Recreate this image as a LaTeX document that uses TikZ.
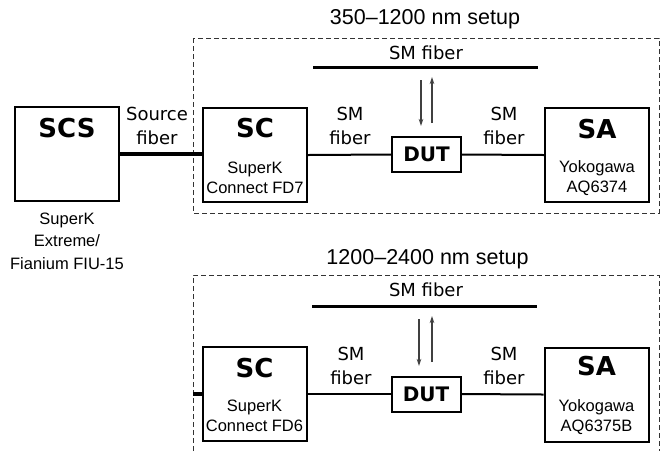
\documentclass[tikz,border=0pt]{standalone}
\usepackage{fontspec}
\setmainfont{Liberation Sans}
\newfontfamily\dv{DejaVu Sans}
\usetikzlibrary{arrows.meta}
\begin{document}
\begin{tikzpicture}[x=1pt,y=-1pt,
  box/.style={draw, line width=2pt, inner sep=0pt},
  bigbox/.style={box, minimum width=104pt, minimum height=94pt},
  dutbox/.style={box, minimum width=69pt, minimum height=35pt, font=\dv\bfseries\fontsize{20}{22}\selectfont},
  bold/.style={font=\dv\bfseries\fontsize{26}{28}\selectfont, inner sep=0pt},
  small/.style={font=\fontsize{16.5}{20}\selectfont, align=center, inner sep=0pt},
  lbl/.style={font=\dv\fontsize{18}{24}\selectfont, align=center, inner sep=0pt},
  ttl/.style={font=\fontsize{21.5}{24}\selectfont, inner sep=0pt},
  fiber/.style={line width=2pt},
  srcfiber/.style={line width=4.5pt},
  smline/.style={line width=3pt},
  frame/.style={line width=1pt, black!80, dash pattern=on 5pt off 3pt},
  arr/.style={line width=1.2pt, black!75, -{Stealth[length=7pt,width=4.5pt]}}
]
\useasboundingbox (0,0) rectangle (660,451);

% frames
\draw[frame] (193,38) rectangle (659,213);
\draw[frame] (193,451) |- (659,275) -- (659,451);

% titles
\node[ttl] (t1) at (425,19) {350–1200 nm setup};
\node[ttl] (t2) at (427.5,259) {1200–2400 nm setup};

% SCS
\node[bigbox] (scs) at (67,154) {};
\node[bold] (scslbl) at (67,128) {SCS};
\node[small, font=\fontsize{16.5}{22.5}\selectfont] (scsdesc) at (67,241) {SuperK\\Extreme/\\Fianium FIU-15};

% ---- top setup ----
\node[bigbox] (sc1) at (255,155) {};
\node[bold] (sc1lbl) at (255,128) {SC};
\node[small] (sc1desc) at (255,178) {SuperK\\Connect FD7};

\node[dutbox] (dut1) at (426.5,154.5) {DUT};

\node[bigbox] (sa1) at (597,155) {};
\node[bold] (sa1lbl) at (597,129) {SA};
\node[small] (sa1desc) at (597,178) {Yokogawa\\AQ6374};

\draw[srcfiber] (scs.east) -- (scs.east -| sc1.west);
\node[lbl] (srclbl) at (157,126) {Source\\fiber};

\draw[fiber] (sc1.east) -- (dut1.west);
\draw[fiber] (dut1.east) -- (sa1.west);
\node[lbl] (f1a) at (350,126) {SM\\fiber};
\node[lbl] (f1b) at (504,126) {SM\\fiber};

\coordinate (sm1a) at (313,67);
\coordinate (sm1b) at (538,67);
\draw[smline] (sm1a) -- (sm1b);
\node[lbl] (sm1lbl) at (426,53) {SM fiber};

\coordinate (d1s) at (421,80);
\coordinate (d1e) at (421,126);
\coordinate (u1s) at (432,123);
\coordinate (u1e) at (432,77);
\draw[arr] (d1s) -- (d1e);
\draw[arr] (u1s) -- (u1e);

% ---- bottom setup ----
\node[bigbox] (sc2) at (254.5,394) {};
\node[bold] (sc2lbl) at (254.5,368) {SC};
\node[small] (sc2desc) at (254.5,416) {SuperK\\Connect FD6};

\node[dutbox] (dut2) at (426,394) {DUT};

\node[bigbox] (sa2) at (596.5,394.5) {};
\node[bold] (sa2lbl) at (596.5,366) {SA};
\node[small] (sa2desc) at (596.5,417) {Yokogawa\\AQ6375B};

\coordinate (stub) at (193,394);
\draw[srcfiber] (stub) -- (sc2.west);

\draw[fiber] (sc2.east) -- (dut2.west);
\draw[fiber] (dut2.east) -- (sa2.west);
\node[lbl] (f2a) at (351,366) {SM\\fiber};
\node[lbl] (f2b) at (504,366) {SM\\fiber};

\coordinate (sm2a) at (312,306);
\coordinate (sm2b) at (537,306);
\draw[smline] (sm2a) -- (sm2b);
\node[lbl] (sm2lbl) at (426,290) {SM fiber};

\coordinate (d2s) at (419,319);
\coordinate (d2e) at (419,366);
\coordinate (u2s) at (432,362);
\coordinate (u2e) at (432,316);
\draw[arr] (d2s) -- (d2e);
\draw[arr] (u2s) -- (u2e);
\end{tikzpicture}
\end{document}
